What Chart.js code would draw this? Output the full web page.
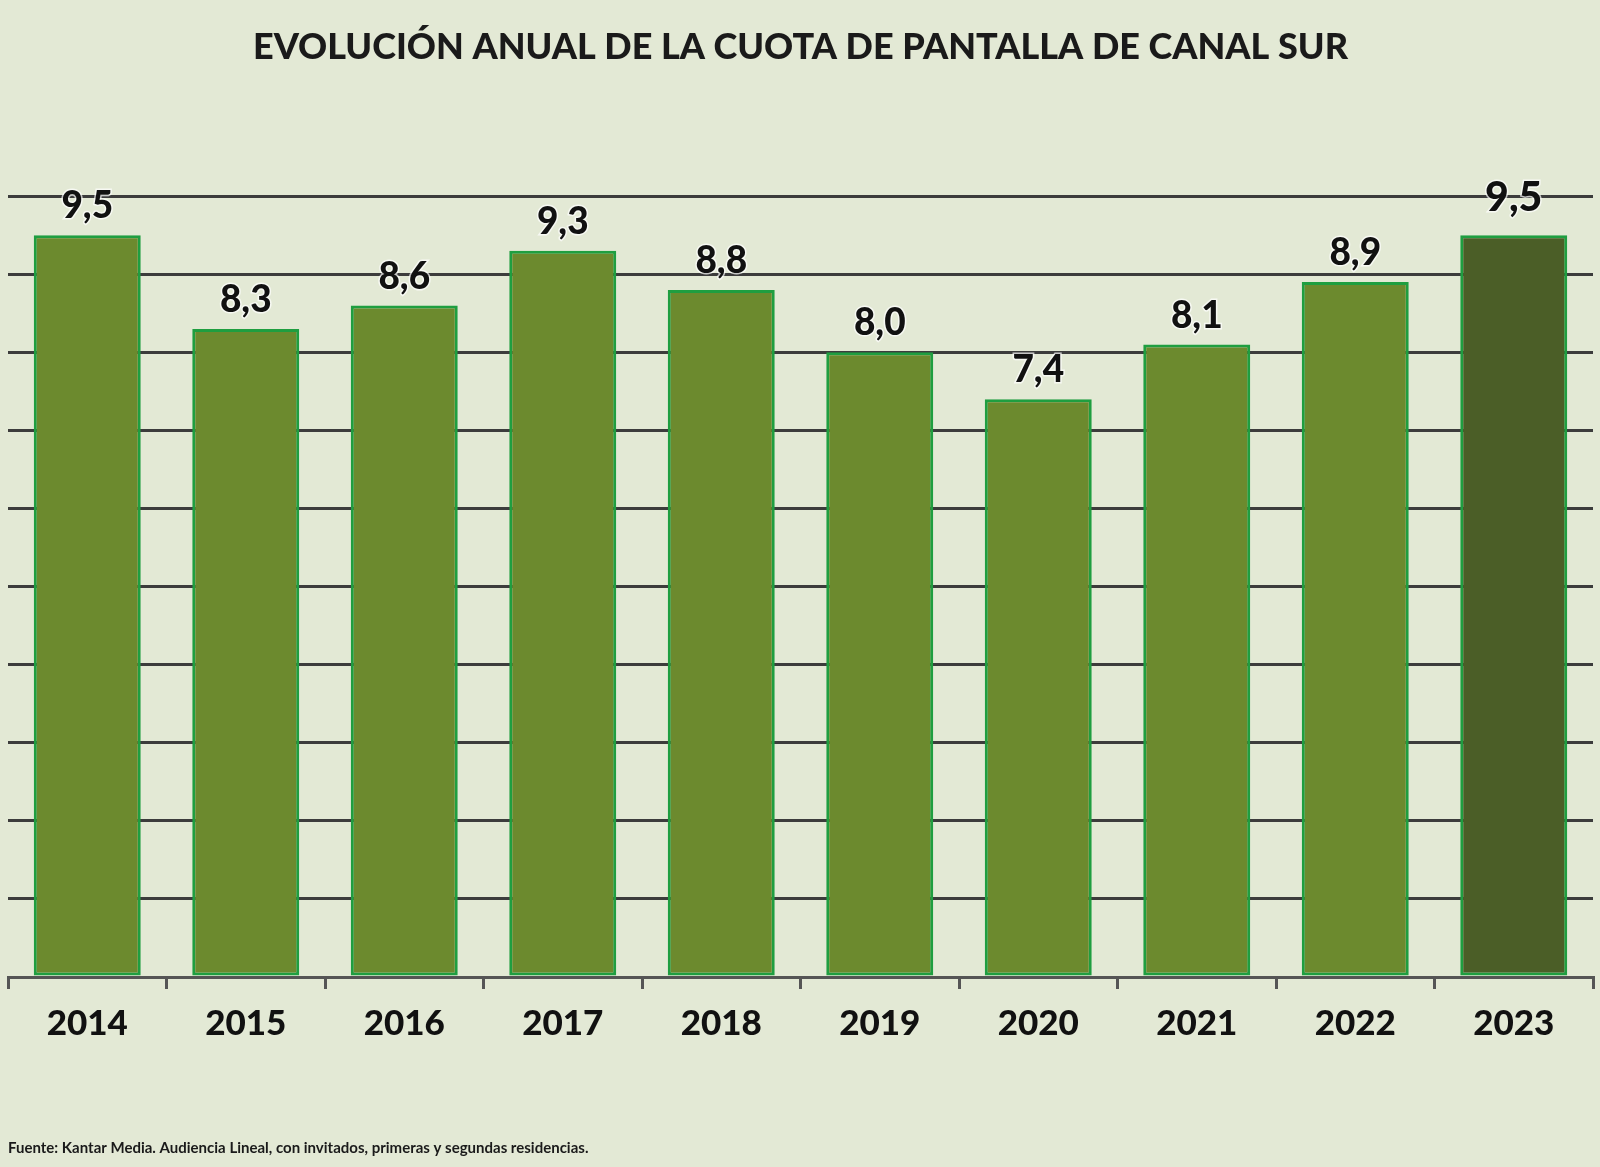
<!DOCTYPE html>
<html>
<head>
<meta charset="utf-8">
<script src="https://cdn.jsdelivr.net/npm/chart.js@4/dist/chart.umd.min.js"></script>
<style>
  html, body { margin: 0; padding: 0; background: #e3e9d5; }
  #wrap { width: 1600px; height: 1167px; position: relative; }
</style>
</head>
<body>
<div id="wrap"><canvas id="barChart"></canvas></div>
<script>
// data
var years = ['2014', '2015', '2016', '2017', '2018', '2019', '2020', '2021', '2022', '2023'];
var share = [9.5, 8.3, 8.6, 9.3, 8.8, 8.0, 7.4, 8.1, 8.9, 9.5];
var yTicks = [0, 1, 2, 3, 4, 5, 6, 7, 8, 9, 10];

var titleText = 'EVOLUCIÓN ANUAL DE LA CUOTA DE PANTALLA DE CANAL SUR';
var sourceText = 'Fuente: Kantar Media. Audiencia Lineal, con invitados, primeras y segundas residencias.';

var fontName = 'Lato, "Open Sans", sans-serif';

var barColors = [];
for (let i = 0; i < years.length; i++) {
    barColors.push(i == years.length - 1 ? '#4b5e27' : '#6c8a2e');
}

// values on top of the bars, comma as decimal mark
var valueLabels = {
    id: 'valueLabels',
    afterDatasetsDraw: function (chart) {
        var ctx = chart.ctx;
        var meta = chart.getDatasetMeta(0);
        ctx.save();
        ctx.textAlign = 'center';
        ctx.textBaseline = 'alphabetic';
        meta.data.forEach(function (bar, i) {
            var last = i == meta.data.length - 1;
            ctx.font = '900 ' + (last ? 41 : 37) + 'px ' + fontName;
            var txt = share[i].toFixed(1).replace('.', ',');
            var y = bar.y - (last ? 24 : 17);
            ctx.lineWidth = 3;
            ctx.strokeStyle = 'rgba(255,255,255,0.7)';
            ctx.strokeText(txt, bar.x, y);
            ctx.fillStyle = '#111111';
            ctx.fillText(txt, bar.x, y);
        });
        ctx.restore();
    }
};

var barChartCanvas = document.getElementById('barChart').getContext('2d');

new Chart(barChartCanvas, {
    type: 'bar',
    data: {
        labels: years,
        datasets: [{
            label: 'Cuota de pantalla',
            data: share,
            backgroundColor: barColors,
            borderColor: '#1f9e40',
            borderWidth: 3,
            borderSkipped: false,
            categoryPercentage: 1,
            barPercentage: 0.675
        }]
    },
    options: {
        responsive: true,
        maintainAspectRatio: false,
        animation: false,
        layout: { padding: { left: 8, right: 7, top: 0, bottom: 0 } },
        plugins: {
            legend: { display: false },
            tooltip: { enabled: false },
            title: {
                display: true,
                text: titleText,
                color: '#1a1a1a',
                font: { family: fontName, size: 36, weight: '900', lineHeight: 1.2 },
                padding: { top: 26, bottom: 127 }
            },
            subtitle: {
                display: true,
                position: 'bottom',
                align: 'start',
                text: sourceText,
                color: '#1a1a1a',
                font: { family: fontName, size: 15, weight: 'bold', lineHeight: 1.2 },
                padding: { top: 80, bottom: 10 }
            }
        },
        scales: {
            x: {
                grid: {
                    display: true,
                    drawOnChartArea: false,
                    drawTicks: true,
                    tickLength: 12,
                    color: '#555555',
                    lineWidth: 3,
                    offset: true
                },
                border: { display: true, color: '#555555', width: 3 },
                ticks: {
                    color: '#111111',
                    padding: 14,
                    font: { family: fontName, size: 35, weight: '900', lineHeight: 1.2 }
                }
            },
            y: {
                min: yTicks[0],
                max: yTicks[yTicks.length - 1],
                afterBuildTicks: function (axis) {
                    axis.ticks = yTicks.map(function (v) { return { value: v }; });
                },
                grid: {
                    color: '#3c3c3c',
                    lineWidth: 3,
                    drawTicks: false
                },
                border: { display: false },
                ticks: { display: false }
            }
        }
    },
    plugins: [valueLabels]
});
</script>
</body>
</html>
